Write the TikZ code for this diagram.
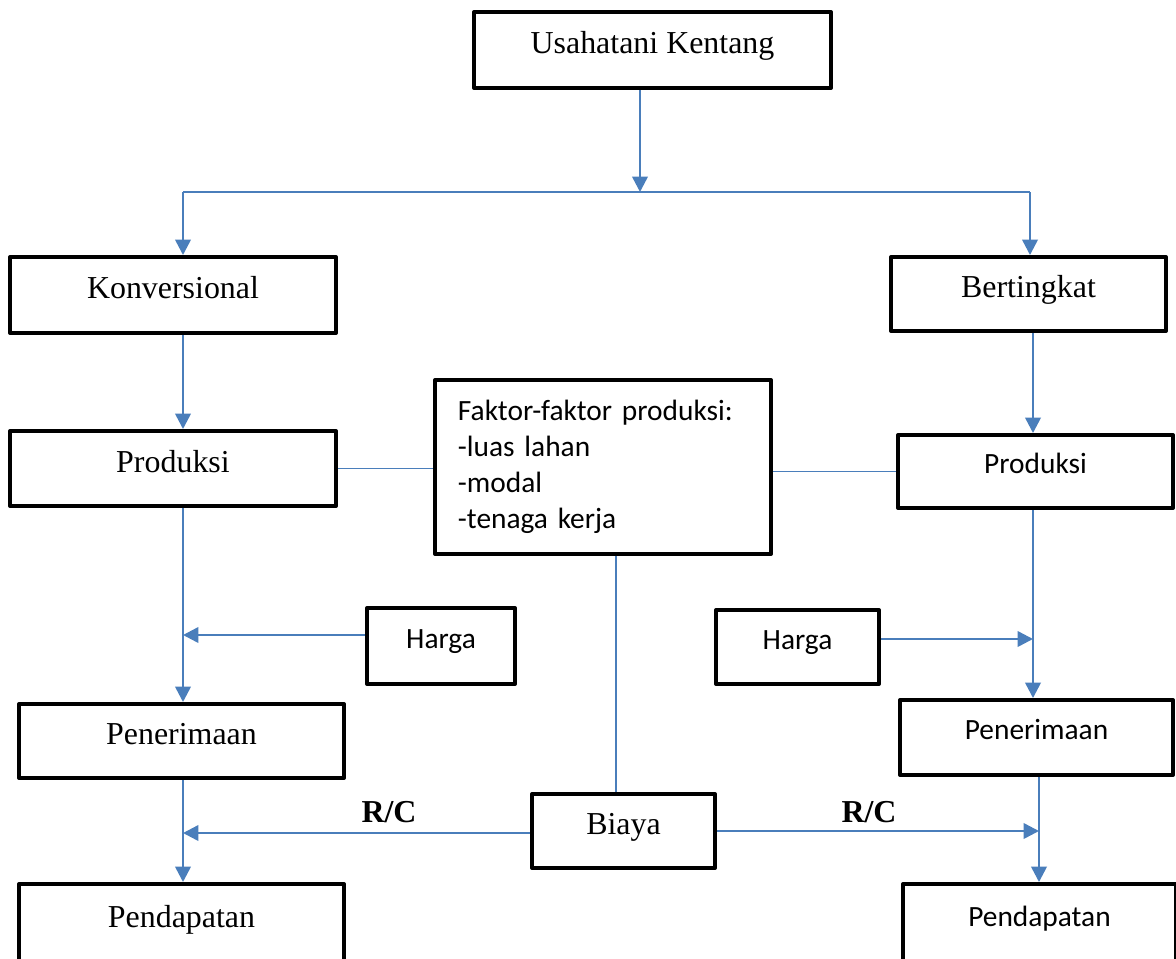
\documentclass[tikz,border=0pt]{standalone}
\usepackage{fontspec}
\setmainfont{Liberation Serif}
\newfontfamily\calibri{Carlito}
\usepackage{tikz}
\usetikzlibrary{arrows,arrows.meta}
\usetikzlibrary{calc}
\definecolor{panah}{RGB}{74,126,187}

\begin{document}
\begin{tikzpicture}[x=0.025cm, y=-0.025cm,
	kotak/.style={draw=black, line width=2.8pt, line join=round, rectangle, inner sep=0pt},
	serif/.style={kotak, font=\fontsize{22.7}{27}\selectfont, text height=16pt, text depth=11pt},
	sans/.style={kotak, font=\calibri\fontsize{20.9}{25.6}\selectfont, text height=14.5pt, text depth=11.1pt},
	garis/.style={draw=panah, line width=1.8pt},
	tipis/.style={draw=panah, line width=1.2pt},
	panahan/.style={garis, -{Triangle[length=11pt, width=11pt]}}]

	\clip (0,0) rectangle (1176,959);

	\node[serif, minimum width=8.925cm, minimum height=1.9cm] (usaha) at (652.5,50) {Usahatani Kentang};
	\node[serif, minimum width=8.15cm, minimum height=1.9cm] (konv) at (173,295) {Konversional};
	\node[serif, minimum width=6.875cm, minimum height=1.85cm] (bert) at (1028.5,294) {Bertingkat};

	\node[serif, minimum width=8.15cm, minimum height=1.875cm] (prodL) at (173,468.5) {Produksi};
	\node[kotak, font=\calibri\fontsize{20.9}{25.6}\selectfont, align=left, text width=7.25cm, inner xsep=0.575cm, minimum height=4.35cm] (faktor) at (603,467) {Faktor-faktor produksi:\\-luas lahan\\-modal\\-tenaga kerja};
	\node[sans, minimum width=6.875cm, minimum height=1.825cm] (prodR) at (1035.5,471.5) {Produksi};

	\node[sans, minimum width=3.7cm, minimum height=1.9cm] (hargaL) at (441,646) {Harga};
	\node[sans, minimum width=4.075cm, minimum height=1.85cm] (hargaR) at (797.5,647) {Harga};

	\node[serif, minimum width=8.125cm, minimum height=1.85cm] (penL) at (181.5,741) {Penerimaan};
	\node[sans, minimum width=6.825cm, minimum height=1.875cm] (penR) at (1036.5,737.5) {Penerimaan};

	\node[serif, minimum width=4.575cm, minimum height=1.85cm] (biaya) at (623.5,831) {Biaya};
	\node[font=\bfseries\fontsize{22.7}{27}\selectfont] (rcL) at (389,812) {R/C};
	\node[font=\bfseries\fontsize{22.7}{27}\selectfont] (rcR) at (869,812) {R/C};

	\node[serif, minimum width=8.125cm, minimum height=2cm] (pendL) at (181.5,924) {Pendapatan};
	\node[sans, minimum width=6.825cm, minimum height=2cm] (pendR) at (1039.5,924) {Pendapatan};

	% cabang atas
	\coordinate (cabang) at (640,192);
	\coordinate (kiri) at (183,192);
	\coordinate (kanan) at (1030,192);
	\draw[panahan] (usaha.south -| cabang) -- (cabang);
	\draw[garis] (kiri) -- (kanan);
	\draw[panahan] (kiri) -- (konv.north -| kiri);
	\draw[panahan] (kanan) -- (bert.north -| kanan);

	% kolom kiri
	\coordinate (hL) at (183,635);
	\coordinate (bL) at (183,833);
	\draw[panahan] (konv.south -| kiri) -- (prodL.north -| kiri);
	\draw[panahan] (prodL.south -| kiri) -- (penL.north -| kiri);
	\draw[panahan] (hargaL.west |- hL) -- (hL);
	\draw[panahan] (penL.south -| kiri) -- (pendL.north -| kiri);
	\draw[panahan] (biaya.west |- bL) -- (bL);

	% kolom kanan
	\coordinate (kolomR) at (1033,0);
	\coordinate (kolomR2) at (1039,0);
	\coordinate (hR) at (1033,639);
	\coordinate (bR) at (1039,831);
	\draw[panahan] (bert.south -| kolomR) -- (prodR.north -| kolomR);
	\draw[panahan] (prodR.south -| kolomR) -- (penR.north -| kolomR);
	\draw[panahan] (hargaR.east |- hR) -- (hR);
	\draw[panahan] (penR.south -| kolomR2) -- (pendR.north -| kolomR2);
	\draw[panahan] (biaya.east |- bR) -- (bR);

	% faktor produksi
	\coordinate (tengah) at (616,0);
	\draw[tipis] (prodL.east) -- (faktor.west |- prodL.east);
	\draw[tipis] (faktor.east |- prodR.west) -- (prodR.west);
	\draw[tipis] (faktor.south -| tengah) -- (biaya.north -| tengah);

\end{tikzpicture}
\end{document}
